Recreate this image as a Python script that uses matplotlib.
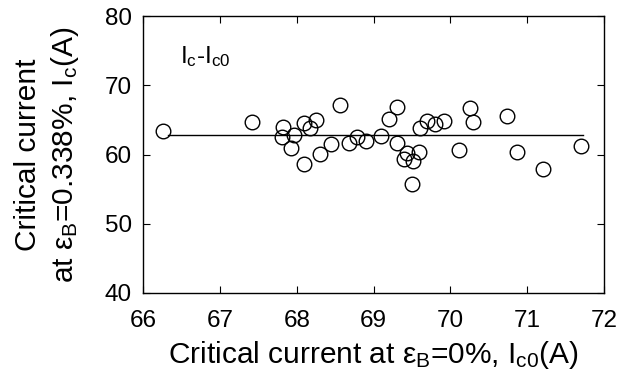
import matplotlib
matplotlib.use("Agg")
import matplotlib.pyplot as plt

plt.rcParams['font.family'] = ['Liberation Sans', 'DejaVu Sans']
plt.rcParams['mathtext.fontset'] = 'custom'
plt.rcParams['mathtext.rm'] = 'Liberation Sans'
plt.rcParams['mathtext.it'] = 'Liberation Sans'

# measured critical currents (A)
ic0 = [66.26, 67.42, 67.82, 67.81, 67.97, 67.93, 68.09, 68.17, 68.25, 68.09,
       68.30, 68.44, 68.56, 68.68, 68.79, 68.90, 69.10, 69.20, 69.30, 69.30,
       69.43, 69.40, 69.51, 69.59, 69.50, 69.61, 69.70, 69.80, 69.91, 70.11,
       70.26, 70.30, 70.73, 70.86, 71.21, 71.70]
ic = [63.4, 64.7, 64.0, 62.5, 62.8, 61.0, 64.5, 63.9, 65.0, 58.7,
      60.1, 61.5, 67.1, 61.6, 62.5, 61.9, 62.7, 65.1, 66.9, 61.7,
      60.2, 59.4, 59.1, 60.4, 55.7, 63.8, 64.8, 64.4, 64.9, 60.6,
      66.7, 64.7, 65.6, 60.4, 57.9, 61.3]

# average line
fit_x = [66.33, 71.72]
fit_y = [62.85, 62.85]

fig = plt.figure(figsize=(6.19, 3.82), dpi=100)
ax = fig.add_axes([0.231, 0.233, 0.745, 0.725])

ax.plot(fit_x, fit_y, color='black', linewidth=1.0)
ax.plot(ic0, ic, 'o', markersize=10.5, markerfacecolor='none',
        markeredgecolor='black', markeredgewidth=1.0)

ax.set_xlim(66, 72)
ax.set_ylim(40, 80)
ax.set_xticks([66, 67, 68, 69, 70, 71, 72])
ax.set_yticks([40, 50, 60, 70, 80])
ax.tick_params(direction='in', top=True, right=True, length=5,
               labelsize=17.5)
ax.tick_params(axis='x', pad=12)
ax.tick_params(axis='y', pad=8)
for s in ax.spines.values():
    s.set_linewidth(1.0)

ax.text(66.48, 73.2, r'I$_{\rm c}$-I$_{\rm c0}$', fontsize=17.5)

ax.set_xlabel(r'Critical current at $\varepsilon_{\rm B}$=0%, I$_{\rm c0}$(A)',
              fontsize=21.5, labelpad=5)
ax.set_ylabel('Critical current\n' + r'at $\varepsilon_{\rm B}$=0.338%, I$_{\rm c}$(A)',
              fontsize=21.5, labelpad=17, linespacing=1.3)

fig.savefig('out.png', dpi=100)
